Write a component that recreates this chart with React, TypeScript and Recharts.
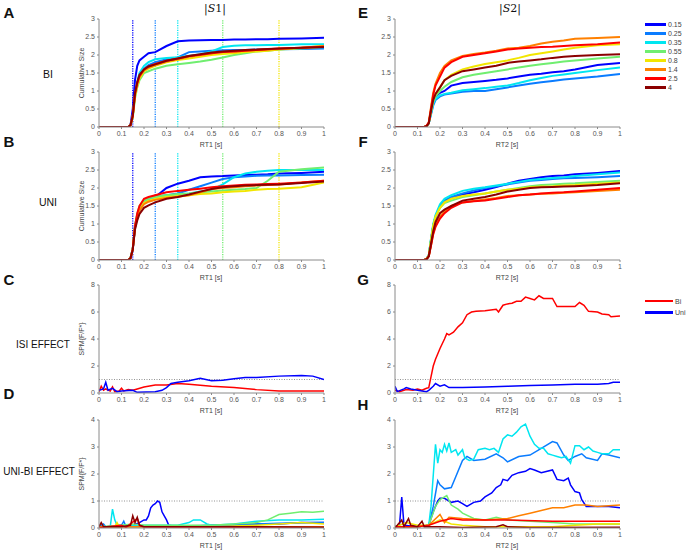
import React from "react";
import { LineChart, Line, XAxis, YAxis, ReferenceLine } from "recharts";

const isiLabels = ["0.15", "0.25", "0.35", "0.55", "0.8", "1.4", "2.5", "4"];
const isiColors = ["#0000ff", "#0a7cff", "#00e6f0", "#70ee70", "#f2e600", "#ff8000", "#ff0000", "#8b0000"];
const onsetMarks = [0.15, 0.25, 0.35, 0.55, 0.8];
const xTicks = [0, 0.1, 0.2, 0.3, 0.4, 0.5, 0.6, 0.7, 0.8, 0.9, 1];
const cumTicks = [0, 0.5, 1, 1.5, 2, 2.5, 3];
const isiTicks = [0, 2, 4, 6, 8];
const diffTicks = [0, 1, 2, 3, 4];

const cumX = [0, 0.13, 0.14, 0.15, 0.16, 0.17, 0.18, 0.2, 0.22, 0.25, 0.3, 0.35, 0.4, 0.45, 0.5, 0.55, 0.6, 0.65, 0.7, 0.75, 0.8, 0.9, 1];

// A: BI, S1
const biS1 = [
  [0, 0, 0.05, 0.5, 1.3, 1.7, 1.85, 1.95, 2.05, 2.08, 2.25, 2.38, 2.4, 2.41, 2.42, 2.42, 2.43, 2.43, 2.44, 2.44, 2.45, 2.46, 2.48],
  [0, 0, 0.05, 0.3, 0.9, 1.2, 1.45, 1.62, 1.72, 1.8, 1.88, 1.93, 2.08, 2.1, 2.12, 2.13, 2.14, 2.14, 2.15, 2.15, 2.16, 2.17, 2.18],
  [0, 0, 0.05, 0.3, 0.9, 1.25, 1.5, 1.7, 1.8, 1.88, 1.92, 1.94, 1.98, 2.02, 2.1, 2.22, 2.26, 2.27, 2.27, 2.28, 2.28, 2.3, 2.3],
  [0, 0, 0.04, 0.25, 0.8, 1.1, 1.3, 1.5, 1.55, 1.62, 1.7, 1.74, 1.78, 1.82, 1.87, 1.93, 2.0, 2.05, 2.1, 2.12, 2.15, 2.18, 2.22],
  [0, 0, 0.04, 0.28, 0.85, 1.15, 1.35, 1.55, 1.62, 1.7, 1.8, 1.86, 1.9, 1.95, 2.0, 2.03, 2.05, 2.08, 2.1, 2.12, 2.15, 2.2, 2.25],
  [0, 0, 0.05, 0.3, 0.9, 1.2, 1.4, 1.57, 1.65, 1.72, 1.82, 1.88, 1.95, 2.0, 2.05, 2.08, 2.1, 2.12, 2.14, 2.15, 2.17, 2.2, 2.25],
  [0, 0, 0.05, 0.3, 0.92, 1.22, 1.42, 1.6, 1.68, 1.75, 1.84, 1.9, 1.97, 2.01, 2.05, 2.08, 2.1, 2.12, 2.14, 2.16, 2.18, 2.2, 2.23],
  [0, 0, 0.05, 0.32, 0.95, 1.25, 1.45, 1.6, 1.68, 1.74, 1.84, 1.9, 1.97, 2.02, 2.07, 2.1, 2.12, 2.14, 2.15, 2.17, 2.18, 2.2, 2.22],
];

// B: UNI, S1
const uniS1 = [
  [0, 0, 0.05, 0.3, 0.9, 1.2, 1.4, 1.6, 1.68, 1.75, 2.0, 2.12, 2.2, 2.3, 2.32, 2.33, 2.35, 2.36, 2.37, 2.38, 2.4, 2.42, 2.45],
  [0, 0, 0.05, 0.3, 0.9, 1.2, 1.4, 1.6, 1.68, 1.75, 1.8, 1.85, 1.95, 2.05, 2.15, 2.25, 2.3, 2.32, 2.34, 2.35, 2.35, 2.36, 2.37],
  [0, 0, 0.06, 0.32, 0.95, 1.25, 1.45, 1.62, 1.7, 1.75, 1.8, 1.82, 1.85, 1.9, 1.95, 2.1, 2.3, 2.4, 2.45, 2.48, 2.5, 2.5, 2.5],
  [0, 0, 0.05, 0.3, 0.95, 1.28, 1.5, 1.65, 1.72, 1.76, 1.8, 1.83, 1.85, 1.88, 1.9, 1.93, 1.95, 1.97, 2.0, 2.2, 2.45, 2.52, 2.57],
  [0, 0, 0.05, 0.3, 0.9, 1.2, 1.4, 1.58, 1.65, 1.7, 1.75, 1.78, 1.8, 1.83, 1.85, 1.88, 1.9, 1.92, 1.95, 1.97, 1.98, 2.02, 2.15],
  [0, 0, 0.05, 0.3, 0.9, 1.2, 1.38, 1.55, 1.62, 1.67, 1.72, 1.76, 1.8, 1.88, 1.97, 2.0, 2.02, 2.05, 2.07, 2.08, 2.1, 2.15, 2.2],
  [0, 0, 0.05, 0.3, 0.95, 1.3, 1.5, 1.7, 1.75, 1.8, 1.88, 1.92, 1.95, 1.98, 2.02, 2.05, 2.07, 2.09, 2.1, 2.11, 2.12, 2.15, 2.2],
  [0, 0, 0.05, 0.28, 0.85, 1.1, 1.28, 1.45, 1.52, 1.6, 1.7, 1.75, 1.82, 1.9, 1.97, 2.02, 2.05, 2.07, 2.08, 2.09, 2.1, 2.14, 2.18],
];

// E: BI, S2
const biS2 = [
  [0, 0, 0.02, 0.1, 0.4, 0.7, 0.85, 0.95, 1.0, 1.15, 1.22, 1.25, 1.28, 1.31, 1.35, 1.4, 1.45, 1.48, 1.52, 1.55, 1.6, 1.72, 1.78],
  [0, 0, 0.02, 0.1, 0.35, 0.6, 0.75, 0.85, 0.9, 0.93, 0.98, 1.0, 1.0, 1.05, 1.1, 1.15, 1.2, 1.24, 1.28, 1.32, 1.35, 1.4, 1.47],
  [0, 0, 0.02, 0.1, 0.38, 0.65, 0.78, 0.88, 0.92, 0.95, 1.02, 1.05, 1.08, 1.12, 1.15, 1.22, 1.3, 1.36, 1.42, 1.46, 1.5, 1.58, 1.65],
  [0, 0, 0.02, 0.1, 0.4, 0.7, 0.85, 1.0, 1.12, 1.25, 1.38, 1.45, 1.5, 1.55, 1.6, 1.65, 1.7, 1.74, 1.78, 1.82, 1.85, 1.9, 1.95],
  [0, 0, 0.02, 0.1, 0.45, 0.75, 0.92, 1.1, 1.3, 1.45, 1.6, 1.68, 1.75, 1.8, 1.85, 1.92, 2.0, 2.05, 2.1, 2.15, 2.2, 2.27, 2.3],
  [0, 0, 0.03, 0.12, 0.55, 0.95, 1.2, 1.5, 1.7, 1.85, 1.97, 2.03, 2.07, 2.12, 2.18, 2.2, 2.25, 2.32, 2.37, 2.4, 2.45, 2.47, 2.5],
  [0, 0, 0.03, 0.12, 0.5, 0.9, 1.15, 1.4, 1.65, 1.8, 1.95, 2.0, 2.05, 2.1, 2.15, 2.18, 2.2, 2.22, 2.23, 2.25, 2.27, 2.3, 2.35],
  [0, 0, 0.02, 0.1, 0.45, 0.75, 0.92, 1.1, 1.3, 1.42, 1.55, 1.6, 1.65, 1.7, 1.78, 1.82, 1.85, 1.88, 1.92, 1.95, 1.97, 2.0, 2.02],
];

// F: UNI, S2
const uniS2 = [
  [0, 0, 0.03, 0.12, 0.55, 0.95, 1.2, 1.5, 1.62, 1.72, 1.82, 1.88, 1.95, 2.03, 2.12, 2.2, 2.25, 2.3, 2.33, 2.35, 2.38, 2.42, 2.47],
  [0, 0, 0.03, 0.12, 0.55, 0.95, 1.2, 1.5, 1.65, 1.75, 1.85, 1.93, 2.0, 2.05, 2.1, 2.15, 2.2, 2.22, 2.25, 2.27, 2.28, 2.3, 2.33],
  [0, 0, 0.03, 0.12, 0.6, 1.0, 1.25, 1.55, 1.7, 1.8, 1.92, 1.98, 2.02, 2.07, 2.12, 2.17, 2.22, 2.25, 2.28, 2.3, 2.33, 2.38, 2.43],
  [0, 0, 0.03, 0.12, 0.55, 0.95, 1.2, 1.45, 1.58, 1.65, 1.75, 1.8, 1.85, 1.9, 1.95, 2.0, 2.05, 2.08, 2.1, 2.12, 2.13, 2.17, 2.2],
  [0, 0, 0.03, 0.12, 0.55, 0.95, 1.2, 1.45, 1.6, 1.7, 1.78, 1.82, 1.85, 1.9, 1.95, 1.98, 2.02, 2.04, 2.05, 2.07, 2.08, 2.12, 2.15],
  [0, 0, 0.02, 0.1, 0.4, 0.75, 0.95, 1.2, 1.35, 1.5, 1.6, 1.64, 1.68, 1.72, 1.78, 1.8, 1.82, 1.84, 1.85, 1.87, 1.88, 1.92, 1.95],
  [0, 0, 0.02, 0.1, 0.4, 0.72, 0.92, 1.15, 1.3, 1.45, 1.6, 1.63, 1.65, 1.7, 1.75, 1.8, 1.82, 1.85, 1.87, 1.88, 1.9, 1.95, 2.0],
  [0, 0, 0.02, 0.1, 0.45, 0.8, 1.05, 1.3, 1.4, 1.5, 1.65, 1.7, 1.75, 1.82, 1.9, 1.95, 2.0, 2.02, 2.03, 2.04, 2.05, 2.08, 2.13],
];

// C: ISI effect, S1  [rt, spm]
const isiS1Bi = [[0, 0.1], [0.01, 0.5], [0.02, 0.2], [0.03, 0.3], [0.05, 0.15], [0.06, 0.45], [0.07, 0.1], [0.09, 0.15], [0.1, 0.35], [0.11, 0.15], [0.13, 0.25], [0.15, 0.2], [0.17, 0.3], [0.2, 0.45], [0.25, 0.6], [0.3, 0.6], [0.35, 0.7], [0.4, 0.65], [0.5, 0.5], [0.6, 0.4], [0.7, 0.25], [0.8, 0.15], [0.9, 0.15], [1, 0.15]];
const isiS1Uni = [[0, 0.2], [0.02, 0.3], [0.03, 0.8], [0.04, 0.2], [0.06, 0.35], [0.08, 0.1], [0.1, 0.15], [0.15, 0.2], [0.17, 0.05], [0.25, 0.1], [0.28, 0.2], [0.3, 0.4], [0.32, 0.7], [0.35, 0.8], [0.4, 0.9], [0.45, 1.1], [0.5, 0.9], [0.55, 0.95], [0.6, 1.05], [0.65, 1.15], [0.7, 1.15], [0.8, 1.25], [0.9, 1.3], [0.95, 1.25], [1, 1.0]];

// G: ISI effect, S2
const isiS2Bi = [[0, 0.2], [0.02, 0.1], [0.05, 0.25], [0.08, 0.2], [0.1, 0.3], [0.12, 0.2], [0.14, 0.35], [0.15, 0.4], [0.16, 1.2], [0.17, 2.0], [0.18, 2.5], [0.2, 3.3], [0.22, 4.0], [0.23, 4.4], [0.24, 4.3], [0.26, 4.5], [0.28, 4.9], [0.3, 5.2], [0.32, 5.8], [0.34, 6.0], [0.36, 6.05], [0.4, 6.1], [0.45, 6.2], [0.46, 6.0], [0.48, 6.5], [0.5, 6.6], [0.52, 6.65], [0.54, 6.8], [0.56, 6.8], [0.58, 7.1], [0.6, 7.0], [0.62, 6.9], [0.64, 7.2], [0.66, 7.0], [0.7, 7.0], [0.72, 6.4], [0.74, 6.4], [0.8, 6.4], [0.82, 6.7], [0.84, 6.5], [0.86, 6.05], [0.9, 6.0], [0.92, 5.85], [0.95, 5.8], [0.96, 5.65], [1, 5.7]];
const isiS2Uni = [[0, 0.5], [0.01, 0.1], [0.04, 0.3], [0.05, 0.4], [0.07, 0.3], [0.1, 0.2], [0.12, 0.15], [0.14, 0.1], [0.15, 0.2], [0.17, 0.5], [0.18, 0.7], [0.2, 0.5], [0.22, 0.6], [0.24, 0.4], [0.3, 0.4], [0.4, 0.45], [0.5, 0.5], [0.6, 0.55], [0.7, 0.6], [0.8, 0.65], [0.9, 0.65], [0.95, 0.7], [0.97, 0.8], [1, 0.8]];

// D: UNI-BI effect, S1 (one list per ISI)
const diffS1 = [
  [[0, 0.05], [0.1, 0.05], [0.15, 0.1], [0.18, 0.2], [0.2, 0.3], [0.21, 0.3], [0.22, 0.45], [0.23, 0.75], [0.24, 0.85], [0.25, 0.9], [0.26, 1.0], [0.27, 0.95], [0.28, 0.6], [0.29, 0.45], [0.3, 0.3], [0.31, 0.1], [0.35, 0.05], [0.5, 0.1], [0.7, 0.15], [0.8, 0.15], [0.9, 0.2], [1, 0.2]],
  [[0, 0.05], [0.02, 0.15], [0.03, 0.05], [0.1, 0.1], [0.11, 0.25], [0.12, 0.05], [0.2, 0.05], [0.4, 0.08], [0.6, 0.1], [0.7, 0.15], [0.8, 0.18], [1, 0.2]],
  [[0, 0.05], [0.05, 0.05], [0.06, 0.7], [0.07, 0.3], [0.08, 0.1], [0.2, 0.1], [0.35, 0.1], [0.4, 0.2], [0.42, 0.3], [0.45, 0.3], [0.48, 0.15], [0.5, 0.1], [0.6, 0.15], [0.7, 0.25], [0.8, 0.3], [0.9, 0.3], [1, 0.32]],
  [[0, 0.05], [0.1, 0.1], [0.15, 0.15], [0.2, 0.1], [0.5, 0.1], [0.6, 0.15], [0.7, 0.2], [0.75, 0.3], [0.8, 0.5], [0.85, 0.55], [0.9, 0.6], [0.95, 0.58], [1, 0.62]],
  [[0, 0.05], [0.07, 0.05], [0.08, 0.2], [0.09, 0.05], [0.2, 0.05], [0.5, 0.05], [0.7, 0.1], [0.8, 0.15], [0.9, 0.2], [1, 0.15]],
  [[0, 0.02], [0.1, 0.05], [0.3, 0.05], [0.6, 0.05], [0.8, 0.05], [1, 0.05]],
  [[0, 0.02], [0.1, 0.1], [0.12, 0.02], [0.17, 0.35], [0.18, 0.1], [0.2, 0.03], [0.5, 0.02], [1, 0.02]],
  [[0, 0.05], [0.01, 0.2], [0.02, 0.05], [0.1, 0.05], [0.14, 0.1], [0.15, 0.45], [0.16, 0.2], [0.17, 0.4], [0.18, 0.1], [0.2, 0.05], [0.5, 0.05], [1, 0.03]],
];

// H: UNI-BI effect, S2
const diffS2 = [
  [[0, 0.05], [0.02, 0.1], [0.03, 1.15], [0.04, 0.1], [0.1, 0.05], [0.15, 0.1], [0.17, 0.6], [0.19, 1.0], [0.2, 1.1], [0.22, 1.1], [0.25, 0.95], [0.28, 1.0], [0.3, 0.9], [0.32, 0.8], [0.35, 0.95], [0.38, 1.0], [0.4, 1.15], [0.43, 1.3], [0.45, 1.5], [0.47, 1.6], [0.48, 1.8], [0.5, 1.75], [0.52, 1.95], [0.55, 2.05], [0.58, 2.1], [0.6, 2.2], [0.62, 2.15], [0.65, 2.05], [0.7, 2.15], [0.72, 1.8], [0.75, 1.75], [0.77, 1.85], [0.78, 1.6], [0.8, 1.35], [0.82, 1.3], [0.83, 1.05], [0.85, 0.8], [0.9, 0.8], [0.95, 0.8], [1, 0.75]],
  [[0, 0.05], [0.1, 0.05], [0.15, 0.1], [0.17, 0.8], [0.19, 1.75], [0.2, 1.6], [0.22, 1.45], [0.25, 1.5], [0.27, 1.9], [0.3, 2.5], [0.32, 2.65], [0.35, 2.5], [0.4, 2.55], [0.45, 2.75], [0.48, 2.6], [0.5, 2.45], [0.55, 2.65], [0.6, 2.7], [0.65, 2.95], [0.7, 3.2], [0.72, 3.15], [0.75, 2.7], [0.77, 2.5], [0.8, 2.65], [0.83, 2.75], [0.85, 2.6], [0.9, 2.5], [0.92, 2.75], [0.95, 2.7], [1, 2.6]],
  [[0, 0.05], [0.1, 0.05], [0.15, 0.1], [0.16, 0.8], [0.18, 3.1], [0.19, 2.4], [0.2, 2.9], [0.21, 2.8], [0.22, 3.1], [0.23, 2.85], [0.24, 3.15], [0.25, 2.8], [0.27, 2.9], [0.28, 2.7], [0.3, 2.9], [0.31, 2.6], [0.33, 2.5], [0.35, 2.55], [0.37, 2.9], [0.4, 2.95], [0.42, 2.9], [0.44, 2.95], [0.46, 2.8], [0.48, 3.3], [0.5, 3.45], [0.52, 3.4], [0.54, 3.55], [0.56, 3.75], [0.58, 3.85], [0.6, 3.4], [0.62, 3.1], [0.64, 2.95], [0.66, 2.95], [0.68, 2.75], [0.7, 2.7], [0.72, 2.65], [0.74, 2.6], [0.76, 2.65], [0.78, 2.4], [0.8, 3.05], [0.82, 3.05], [0.84, 2.9], [0.86, 3.0], [0.88, 2.85], [0.9, 2.8], [0.92, 2.75], [0.95, 2.75], [0.97, 2.9], [1, 2.9]],
  [[0, 0.05], [0.1, 0.05], [0.15, 0.1], [0.18, 0.8], [0.2, 1.05], [0.22, 1.15], [0.23, 1.2], [0.25, 0.85], [0.28, 0.7], [0.3, 0.55], [0.35, 0.35], [0.4, 0.3], [0.45, 0.4], [0.5, 0.3], [0.6, 0.25], [0.7, 0.2], [0.8, 0.15], [0.9, 0.15], [1, 0.15]],
  [[0, 0.05], [0.02, 0.1], [0.05, 0.2], [0.1, 0.1], [0.15, 0.1], [0.2, 0.3], [0.22, 0.25], [0.25, 0.15], [0.3, 0.1], [0.4, 0.05], [0.5, 0.05], [0.7, 0.05], [0.8, 0.1], [0.9, 0.15], [1, 0.15]],
  [[0, 0.05], [0.1, 0.05], [0.15, 0.1], [0.2, 0.5], [0.22, 0.2], [0.24, 0.4], [0.3, 0.35], [0.4, 0.3], [0.5, 0.35], [0.55, 0.45], [0.6, 0.55], [0.65, 0.65], [0.7, 0.75], [0.75, 0.75], [0.8, 0.85], [0.85, 0.85], [0.9, 0.8], [1, 0.85]],
  [[0, 0.05], [0.1, 0.05], [0.15, 0.1], [0.2, 0.25], [0.25, 0.35], [0.3, 0.3], [0.4, 0.3], [0.5, 0.3], [0.7, 0.25], [0.8, 0.25], [1, 0.25]],
  [[0, 0.02], [0.01, 0.1], [0.03, 0.3], [0.04, 0.05], [0.06, 0.35], [0.07, 0.1], [0.1, 0.05], [0.12, 0.25], [0.13, 0.05], [0.2, 0.05], [0.3, 0.02], [0.45, 0.05], [0.48, 0.12], [0.5, 0.05], [0.6, 0.02], [1, 0.03]],
];

const effectNames = ["Bi", "Uni"];
const effectColors = ["#ff0000", "#0000ff"];

const AX = "#8a8a8a";
const tickStyle = { fontSize: 7, fill: "#555", fontFamily: "Arial, 'Liberation Sans', sans-serif" };

const toRows = (series: number[][]) =>
  cumX.map((x, i) => {
    const row: Record<string, number> = { x };
    series.forEach((s, k) => (row["s" + k] = s[i]));
    return row;
  });
const toPts = (pairs: number[][]) => pairs.map(([x, y]) => ({ x, y }));

type PanelProps = {
  left: number;
  top: number;
  w: number;
  h: number;
  yMax: number;
  yTicks: number[];
  rows?: Record<string, number>[];
  series?: { pts: { x: number; y: number }[]; color: string }[];
  cum?: boolean;
  marks?: boolean;
  unity?: boolean;
};

function Panel({ left, top, w, h, yMax, yTicks, rows, series, cum, marks, unity }: PanelProps) {
  const yw = 30;
  const pad = 6;
  return (
    <div style={{ position: "absolute", left: left - yw, top: top - pad }}>
      <LineChart
        width={w + yw + pad}
        height={h + pad + 14}
        data={rows}
        margin={{ top: pad, right: pad, bottom: 0, left: 0 }}
      >
        <XAxis
          type="number"
          dataKey="x"
          domain={[0, 1]}
          ticks={xTicks}
          allowDataOverflow
          height={14}
          tick={tickStyle}
          tickSize={2}
          stroke={AX}
          interval={0}
        />
        <YAxis
          type="number"
          domain={[0, yMax]}
          ticks={yTicks}
          allowDataOverflow
          width={yw}
          tick={tickStyle}
          tickSize={2}
          stroke={AX}
          interval={0}
        />
        {marks &&
          onsetMarks.map((m, i) => (
            <ReferenceLine key={m} x={m} stroke={isiColors[i]} strokeWidth={1.3} strokeDasharray="1.2 1.2" />
          ))}
        {unity && <ReferenceLine y={1} stroke="#777" strokeWidth={0.8} strokeDasharray="1 1.5" />}
        {cum &&
          isiColors.map((c, k) => (
            <Line
              key={k}
              dataKey={"s" + k}
              stroke={c}
              strokeWidth={2}
              dot={false}
              type="linear"
              isAnimationActive={false}
            />
          ))}
        {series &&
          series.map((s, k) => (
            <Line
              key={k}
              data={s.pts}
              dataKey="y"
              stroke={s.color}
              strokeWidth={1.5}
              dot={false}
              type="linear"
              isAnimationActive={false}
            />
          ))}
      </LineChart>
    </div>
  );
}

const font = "Arial, 'Liberation Sans', sans-serif";

function Txt({ x, y, children, size = 10, bold = false, color = "#111", rotate = false, family = font }: any) {
  return (
    <div
      style={{
        position: "absolute",
        left: x,
        top: y,
        transform: `translate(-50%, -50%)${rotate ? " rotate(-90deg)" : ""}`,
        fontSize: size,
        fontWeight: bold ? 700 : 400,
        color,
        fontFamily: family,
        whiteSpace: "nowrap",
        lineHeight: 1,
      }}
    >
      {children}
    </div>
  );
}

export default function App() {
  const L1 = 99;
  const L2 = 395;
  const W = 225;
  const H = 108;
  const tops = [19, 152, 285, 420];
  const effS1 = [isiS1Bi, isiS1Uni].map((p, i) => ({ pts: toPts(p), color: effectColors[i] }));
  const effS2 = [isiS2Bi, isiS2Uni].map((p, i) => ({ pts: toPts(p), color: effectColors[i] }));
  const dS1 = diffS1.map((p, i) => ({ pts: toPts(p), color: isiColors[i] }));
  const dS2 = diffS2.map((p, i) => ({ pts: toPts(p), color: isiColors[i] }));

  return (
    <div style={{ position: "absolute", left: 0, top: 0, width: 688, height: 550, background: "#fff", fontFamily: font }}>
      <Panel left={L1} top={tops[0]} w={W} h={H} yMax={3} yTicks={cumTicks} rows={toRows(biS1)} cum marks />
      <Panel left={L2} top={tops[0]} w={W} h={H} yMax={3} yTicks={cumTicks} rows={toRows(biS2)} cum />
      <Panel left={L1} top={tops[1]} w={W} h={H} yMax={3} yTicks={cumTicks} rows={toRows(uniS1)} cum marks />
      <Panel left={L2} top={tops[1]} w={W} h={H} yMax={3} yTicks={cumTicks} rows={toRows(uniS2)} cum />
      <Panel left={L1} top={tops[2]} w={W} h={H} yMax={8} yTicks={isiTicks} series={effS1} unity />
      <Panel left={L2} top={tops[2]} w={W} h={H} yMax={8} yTicks={isiTicks} series={effS2} unity />
      <Panel left={L1} top={tops[3]} w={W} h={H} yMax={4} yTicks={diffTicks} series={dS1} unity />
      <Panel left={L2} top={tops[3]} w={W} h={H} yMax={4} yTicks={diffTicks} series={dS2} unity />

      {/* titles */}
      <Txt x={215} y={8} size={11} family="'DejaVu Serif', serif">|<i>S</i>1|</Txt>
      <Txt x={510} y={8} size={11} family="'DejaVu Serif', serif">|<i>S</i>2|</Txt>

      {/* panel letters */}
      <Txt x={9} y={12} size={15} bold>A</Txt>
      <Txt x={9} y={141} size={15} bold>B</Txt>
      <Txt x={9} y={279} size={15} bold>C</Txt>
      <Txt x={9} y={393} size={15} bold>D</Txt>
      <Txt x={363} y={12} size={15} bold>E</Txt>
      <Txt x={363} y={141} size={15} bold>F</Txt>
      <Txt x={363} y={279} size={15} bold>G</Txt>
      <Txt x={363} y={404} size={15} bold>H</Txt>

      {/* row labels */}
      <Txt x={48} y={74} size={10.5}>BI</Txt>
      <Txt x={48} y={202} size={10.5}>UNI</Txt>
      <Txt x={43} y={345} size={10}>ISI EFFECT</Txt>
      <Txt x={39} y={472} size={10}>UNI-BI EFFECT</Txt>

      {/* y labels */}
      <Txt x={81} y={73} size={7} color="#444" rotate>Cumulative Size</Txt>
      <Txt x={81} y={206} size={7} color="#444" rotate>Cumulative Size</Txt>
      <Txt x={81} y={339} size={7} color="#444" rotate>SPM{"{F/F*}"}</Txt>
      <Txt x={81} y={474} size={7} color="#444" rotate>SPM{"{F/F*}"}</Txt>

      {/* x labels */}
      {tops.map((t) => (
        <React.Fragment key={t}>
          <Txt x={211} y={t + H + 17} size={7} color="#444">RT1 [s]</Txt>
          <Txt x={507} y={t + H + 17} size={7} color="#444">RT2 [s]</Txt>
        </React.Fragment>
      ))}

      {/* ISI legend */}
      {isiLabels.map((lab, i) => (
        <React.Fragment key={lab}>
          <div style={{ position: "absolute", left: 645, top: 24.3 + i * 9.05 - 1.25, width: 21, height: 2.5, background: isiColors[i] }} />
          <div style={{ position: "absolute", left: 668, top: 24.3 + i * 9.05 - 4.5, fontSize: 7, color: "#444", fontFamily: font, lineHeight: "9px" }}>{lab}</div>
        </React.Fragment>
      ))}

      {/* effect legend */}
      {effectNames.map((lab, i) => (
        <React.Fragment key={lab}>
          <div style={{ position: "absolute", left: 645, top: 301 + i * 11.7 - 1.25, width: 28, height: 2.5, background: effectColors[i] }} />
          <div style={{ position: "absolute", left: 675, top: 301 + i * 11.7 - 4.5, fontSize: 7, color: "#444", fontFamily: font, lineHeight: "9px" }}>{lab}</div>
        </React.Fragment>
      ))}
    </div>
  );
}
